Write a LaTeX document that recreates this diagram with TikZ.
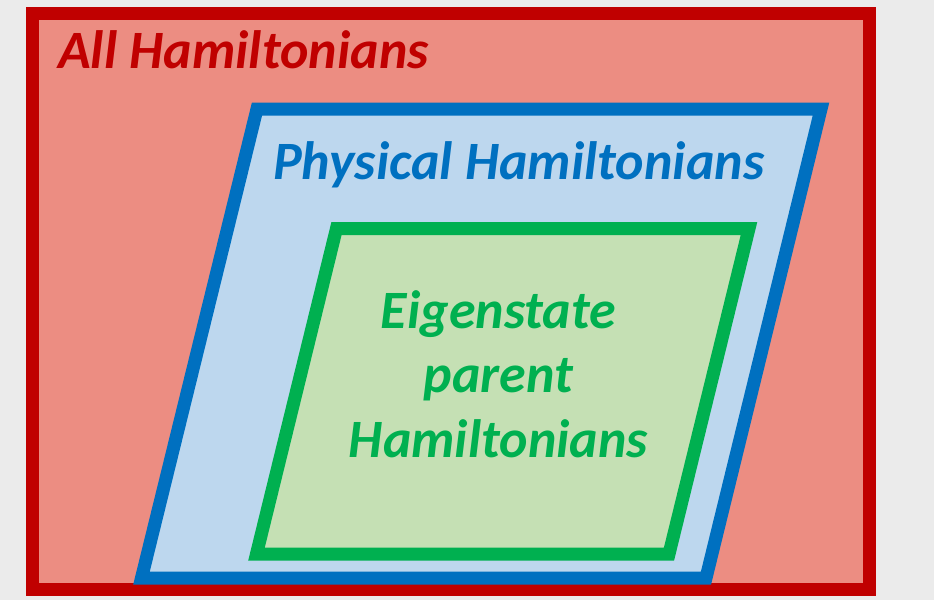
\documentclass[tikz,border=0pt]{standalone}
\usepackage{fontspec}
\setmainfont{Carlito}
\usepackage{tikz}
\usetikzlibrary{positioning}

\definecolor{pagegrey}{HTML}{EBEBEB}
\definecolor{allred}{HTML}{C00000}
\definecolor{allfill}{HTML}{EC8D82}
\definecolor{physblue}{HTML}{0070C0}
\definecolor{physfill}{HTML}{BDD7EE}
\definecolor{eiggreen}{HTML}{00B050}
\definecolor{eigfill}{HTML}{C5E0B4}

\begin{document}
\begin{tikzpicture}[x=1pt,y=-1pt,line join=miter,
    setframe/.style={line width=13pt},
    setlabel/.style={inner sep=0pt,font=\fontsize{54}{64.5}\selectfont\bfseries\itshape}]
  \fill[pagegrey] (0,0) rectangle (934,600);
  \useasboundingbox (0,0) rectangle (934,600);
  % all Hamiltonians
  \filldraw[setframe,draw=allred,fill=allfill] (32,13) rectangle (869,589);
  % physical ones
  \filldraw[setframe,draw=physblue,fill=physfill]
    (257,109) -- (821,109) -- (706,578) -- (141.5,578) -- cycle;
  % eigenstate parent ones
  \filldraw[setframe,draw=eiggreen,fill=eigfill]
    (336.5,228.5) -- (749,228.5) -- (669,554) -- (256.5,554) -- cycle;
  \node[setlabel,text=allred,anchor=base west] (allH) at (58,68) {All Hamiltonians};
  \node[setlabel,text=physblue,anchor=base west] (physH) at (273,179) {Physical Hamiltonians};
  \node[setlabel,text=eiggreen,anchor=base,align=center] (eigH) at (498.5,457)
    {Eigenstate\\parent\\Hamiltonians};
\end{tikzpicture}
\end{document}
